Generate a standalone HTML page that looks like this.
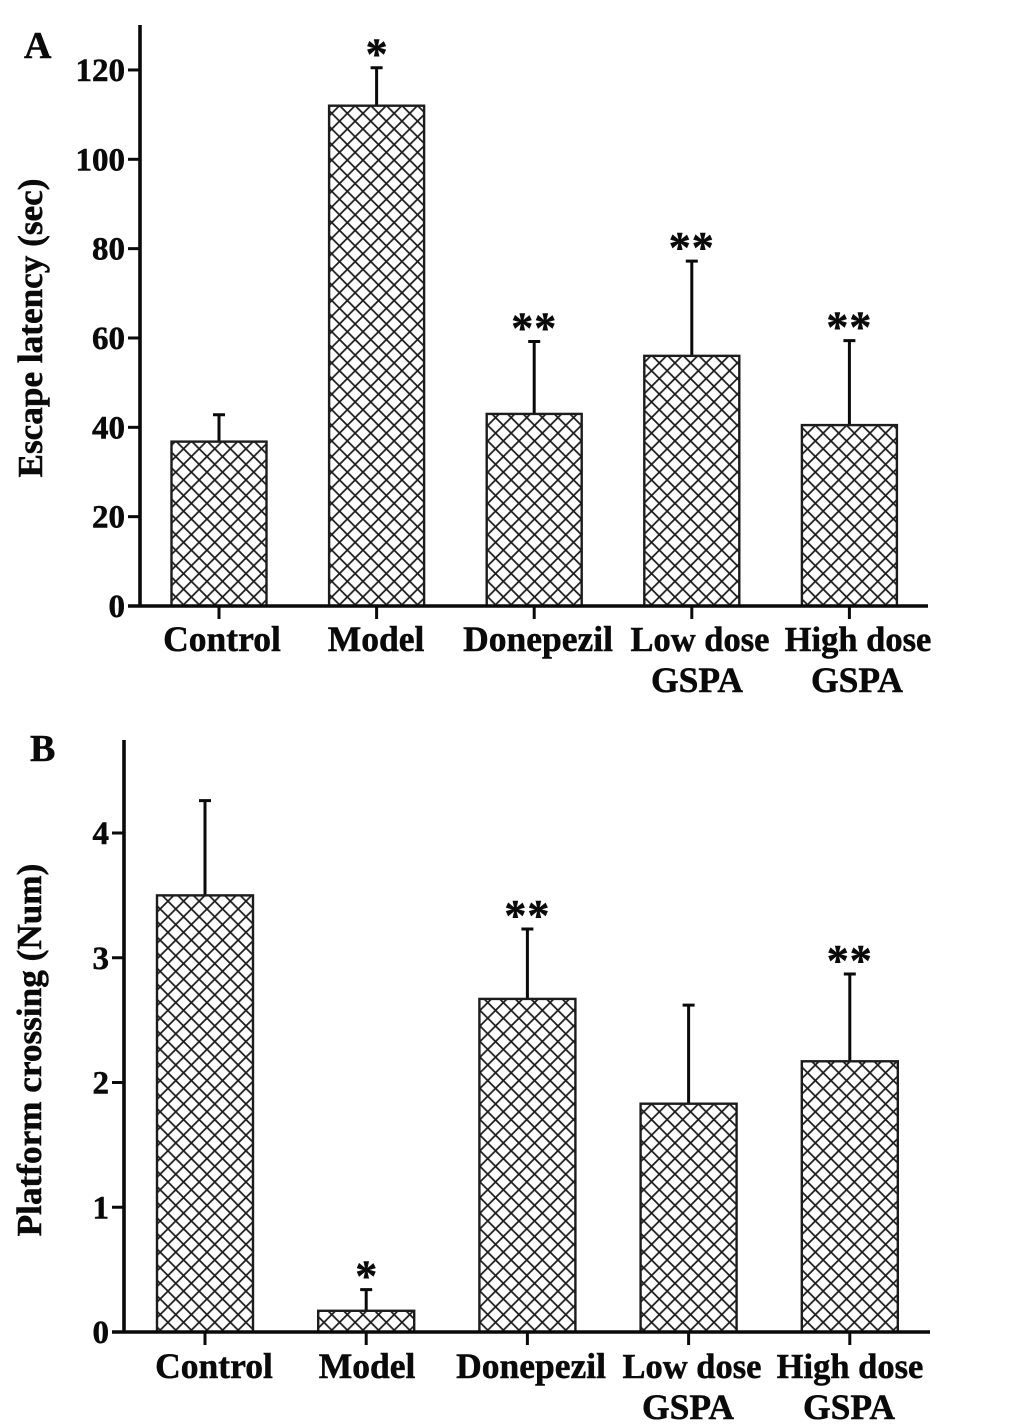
<!DOCTYPE html>
<html lang="en">
<head>
<meta charset="utf-8">
<title>Escape latency and platform crossing</title>
<style>
html,body{margin:0;padding:0;background:#fff;}
svg{display:block;}
text{font-family:"Liberation Serif",serif;font-weight:bold;fill:#0a0a0a;stroke:#0a0a0a;stroke-width:0.5px;}
</style>
</head>
<body>
<svg id="figure" xmlns="http://www.w3.org/2000/svg" width="1033" height="1427" viewBox="0 0 1033 1427">
<defs>
<pattern id="crosshatch" patternUnits="userSpaceOnUse" width="15" height="15" x="4" y="4" patternTransform="scale(1.04)">
<path d="M-2,-2 L17,17 M-2,17 L17,-2 M-2,13 L2,17 M13,-2 L17,2 M-2,2 L2,-2 M13,17 L17,13" stroke="#1c1c1c" stroke-width="1.7" fill="none"/>
</pattern>
</defs>
</svg>
<script>
var categoriesA = [["Control"], ["Model"], ["Donepezil"], ["Low dose", "GSPA"], ["High dose", "GSPA"]];
var meansA = [36.8, 112, 43, 56, 40.5];
var errorTopsA = [42.8, 120.5, 59.2, 77.2, 59.4];
var marksA = ["", "*", "**", "**", "**"];
var ticksA = [0, 20, 40, 60, 80, 100, 120];

var categoriesB = [["Control"], ["Model"], ["Donepezil"], ["Low dose", "GSPA"], ["High dose", "GSPA"]];
var meansB = [3.5, 0.17, 2.67, 1.83, 2.17];
var errorTopsB = [4.26, 0.34, 3.23, 2.62, 2.87];
var marksB = ["", "*", "**", "", "**"];
var ticksB = [0, 1, 2, 3, 4];

var svg = document.getElementById('figure');
var NS = 'http://www.w3.org/2000/svg';

function add(tag, attrs, parent, txt) {
  var el = document.createElementNS(NS, tag);
  for (var k in attrs) el.setAttribute(k, attrs[k]);
  if (txt !== undefined) el.textContent = txt;
  (parent || svg).appendChild(el);
  return el;
}

function drawPanel(cfg) {
  var g = add('g', {}, svg);
  
  

  function yScale(v) { return cfg.y0 - v * cfg.unit; }
  function xScale(i) { return cfg.firstX + i * cfg.stepX; }

  cfg.means.forEach(function (m, i) {
    var cx = xScale(i), top = yScale(m), errTop = yScale(cfg.errs[i]);

    var err = add('path', {d: 'M' + cx + ',' + top + 'V' + errTop + 'M' + (cx - 6) + ',' + errTop + 'H' + (cx + 6), stroke: '#0a0a0a', 'stroke-width': 3, fill: 'none'}, g);
    
    

    var bar = add('rect', {x: cx - cfg.barW / 2, y: top, width: cfg.barW, height: cfg.y0 - top, fill: 'url(#crosshatch)', stroke: '#1c1c1c', 'stroke-width': 2.4}, g);
    
    

    var tick = add('line', {x1: cx, x2: cx, y1: cfg.y0, y2: cfg.y0 + 13, stroke: '#0a0a0a', 'stroke-width': 3}, g);
    
    

    if (cfg.marks[i]) {
      var mark = add('text', {x: cx + (cfg.markDx || 0), y: errTop - cfg.markGap, 'font-size': 44, 'text-anchor': 'middle', 'letter-spacing': cfg.marks[i].length > 1 ? 1 : 0}, g, cfg.marks[i]);
      
      
    }

    cfg.cats[i].forEach(function (line, j) {
      var size = cfg.cats[i].length > 1 && j === 0 ? 34.5 : 35.5;
      var label = add('text', {x: j === 0 ? cfg.labelX[i] : cfg.label2X[i], y: cfg.labelY + j * 41, 'font-size': size, 'text-anchor': 'middle'}, g, line);
      
      
    });
  });

  var yAxis = add('line', {x1: cfg.axisX, x2: cfg.axisX, y1: cfg.axisTop, y2: cfg.y0 + 1, stroke: '#0a0a0a', 'stroke-width': 3.6}, g);
  
  

  var xAxis = add('line', {x1: cfg.axisX - 12, x2: cfg.axisEnd, y1: cfg.y0, y2: cfg.y0, stroke: '#0a0a0a', 'stroke-width': 3.6}, g);
  
  

  cfg.ticks.forEach(function (t) {
    var y = yScale(t);
    var tk = add('line', {x1: cfg.axisX - 12, x2: cfg.axisX, y1: y, y2: y, stroke: '#0a0a0a', 'stroke-width': 3}, g);
    
    
    var lb = add('text', {x: cfg.axisX - 15, y: y + 11, 'font-size': 33, 'text-anchor': 'end'}, g, String(t));
    
    
  });

  var title = add('text', {x: 0, y: 0, 'font-size': cfg.titleSize, 'text-anchor': 'middle', transform: 'translate(' + cfg.titleX + ',' + cfg.titleY + ') rotate(-90)'}, g, cfg.title);
  
  

  var letter = add('text', {x: cfg.letterX, y: cfg.letterY, 'font-size': 38}, g, cfg.letter);
  
  
}

drawPanel({
  name: 'panel-a', letter: 'A', letterX: 24, letterY: 58,
  title: 'Escape latency (sec)', titleSize: 35.2, titleX: 42, titleY: 328,
  y0: 606, unit: 4.467, axisX: 140, axisTop: 25, axisEnd: 928,
  firstX: 219, stepX: 157.6, barW: 95,
  labelX: [222, 376, 538, 700, 858], label2X: [222, 376, 538, 697, 857], labelY: 651,
  cats: categoriesA, means: meansA, errs: errorTopsA, marks: marksA, ticks: ticksA, markGap: -1
});

drawPanel({
  name: 'panel-b', letter: 'B', letterX: 30, letterY: 761,
  title: 'Platform crossing (Num)', titleSize: 35.2, titleX: 41, titleY: 1050,
  y0: 1332, unit: 124.75, axisX: 124, axisTop: 740, axisEnd: 930,
  firstX: 205, stepX: 161.2, barW: 96,
  labelX: [214, 367, 531, 692, 850], label2X: [214, 367, 531, 688, 849], labelY: 1378,
  cats: categoriesB, means: meansB, errs: errorTopsB, marks: marksB, ticks: ticksB, markGap: -1
});
</script>
</body>
</html>
